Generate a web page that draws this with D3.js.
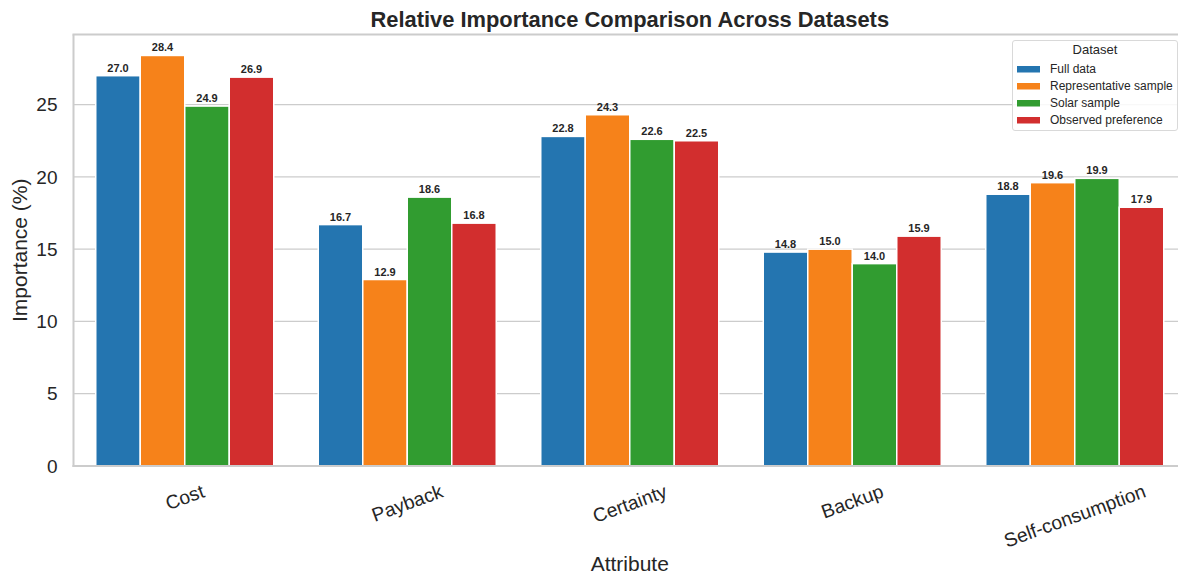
<!DOCTYPE html>
<html><head><meta charset="utf-8">
<script src="https://cdn.jsdelivr.net/npm/d3@7"></script>
<style>body{margin:0;background:#fff}svg{display:block;font-family:"Liberation Sans",Arial,sans-serif}</style>
</head><body><svg id="c" width="1178" height="578"></svg>
<script>
const categories = ["Cost","Payback","Certainty","Backup","Self-consumption"];
const seriesNames = ["Full data","Representative sample","Solar sample","Observed preference"];
const fullData = [27.0,16.7,22.8,14.8,18.8];
const representative = [28.4,12.9,24.3,15.0,19.6];
const solar = [24.9,18.6,22.6,14.0,19.9];
const observed = [26.9,16.8,22.5,15.9,17.9];
const yTicks = [0,5,10,15,20,25];
const colors = ["#2475b0","#f6821a","#319c30","#d22e2e"];
const values = [fullData, representative, solar, observed];

const svg = d3.select("#c");
const L = 73.5, R = 1186, T = 34.5, B = 466;
const x = d3.scaleBand().domain(categories).range([L,R]).paddingInner(0.2).paddingOuter(0.1);
const xs = d3.scaleBand().domain(seriesNames).range([0,x.bandwidth()]);
const y = d3.scaleLinear().domain([0,29.85]).range([B,T]);

// grid
svg.append("g").selectAll("line").data(yTicks).join("line")
  .attr("x1",L).attr("x2",R).attr("y1",d=>y(d)).attr("y2",d=>y(d))
  .attr("stroke","#cccccc").attr("stroke-width",1.3);

// bars
const g = svg.append("g");
values.forEach((vals,si)=>{
  g.selectAll(null).data(vals.map((v,i)=>({v,c:categories[i]}))).join("rect")
    .attr("x",d=>x(d.c)+xs(seriesNames[si]))
    .attr("y",d=>y(d.v)).attr("width",xs.bandwidth()).attr("height",d=>B-y(d.v))
    .attr("fill",colors[si]).attr("stroke","#ffffff").attr("stroke-width",1.5);
  g.selectAll(null).data(vals.map((v,i)=>({v,c:categories[i]}))).join("text")
    .attr("x",d=>x(d.c)+xs(seriesNames[si])+xs.bandwidth()/2)
    .attr("y",d=>y(d.v)-4).attr("text-anchor","middle")
    .attr("font-size",11).attr("font-weight","bold").attr("fill","#262626")
    .text(d=>d.v.toFixed(1));
});

// spines
svg.append("line").attr("x1",L).attr("x2",L).attr("y1",T).attr("y2",B+1).attr("stroke","#cccccc").attr("stroke-width",2);
svg.append("line").attr("x1",L-1).attr("x2",R).attr("y1",B).attr("y2",B).attr("stroke","#cccccc").attr("stroke-width",2);
svg.append("line").attr("x1",L-1).attr("x2",R).attr("y1",T).attr("y2",T).attr("stroke","#cccccc").attr("stroke-width",2);

// y ticks
svg.append("g").selectAll("text").data(yTicks).join("text")
  .attr("x",L-16).attr("y",d=>y(d)).attr("dy","0.35em").attr("text-anchor","end")
  .attr("font-size",19).attr("fill","#262626").text(d=>d);

// x ticks (rotated -20°, bbox centered under tick, top just below axis)
const ang = 20*Math.PI/180, fs = 19.3, lh = 22;
svg.append("g").selectAll("text").data(categories).join("text")
  .attr("text-anchor","middle").attr("dy","0.35em")
  .attr("font-size",fs).attr("fill","#262626").text(d=>d)
  .each(function(d){
    const w = this.getComputedTextLength();
    const bh = w*Math.sin(ang) + lh*Math.cos(ang);
    const cy = B + 14 + bh/2;
    d3.select(this).attr("transform",`translate(${x(d)+x.bandwidth()/2},${cy}) rotate(-20)`);
  });

// labels
svg.append("text").attr("x",(L+R)/2).attr("y",571).attr("text-anchor","middle")
  .attr("font-size",21).attr("fill","#262626").text("Attribute");
svg.append("text").attr("transform",`translate(27,${(T+B)/2}) rotate(-90)`).attr("text-anchor","middle")
  .attr("font-size",21).attr("fill","#262626").text("Importance (%)");
svg.append("text").attr("x",(L+R)/2).attr("y",27).attr("text-anchor","middle")
  .attr("font-size",21.9).attr("font-weight","bold").attr("fill","#262626").text("Relative Importance Comparison Across Datasets");

// legend
const lg = svg.append("g");
lg.append("rect").attr("x",1012.5).attr("y",40.5).attr("width",165).attr("height",90).attr("rx",2.5)
  .attr("fill","#ffffff").attr("fill-opacity",0.85).attr("stroke","#d9d9d9").attr("stroke-width",1);
lg.append("text").attr("x",1095).attr("y",54).attr("text-anchor","middle").attr("font-size",13).attr("fill","#262626").text("Dataset");
seriesNames.forEach((s,i)=>{
  const yy = 69 + i*17;
  lg.append("rect").attr("x",1017).attr("y",yy-3).attr("width",23).attr("height",6.5).attr("fill",colors[i]);
  lg.append("text").attr("x",1050).attr("y",yy).attr("dy","0.35em").attr("font-size",12).attr("fill","#262626").text(s);
});
</script></body></html>
